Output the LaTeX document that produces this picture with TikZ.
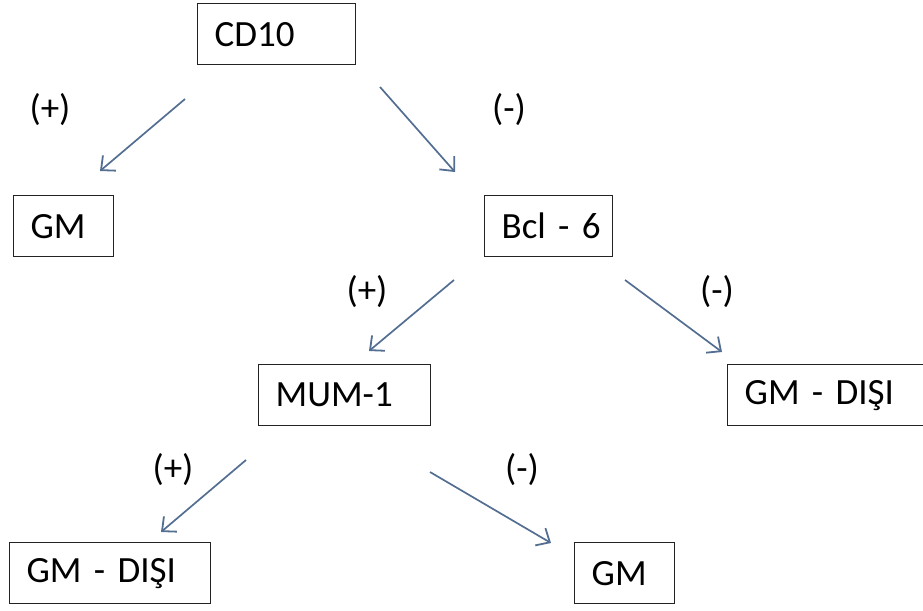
\documentclass[tikz,border=0pt]{standalone}
\usepackage{fontspec}
\setmainfont{Carlito}
\usepackage{xcolor}
\usepackage{tikz}
\usetikzlibrary{arrows.meta}
\definecolor{arrowblue}{RGB}{84,110,146}
\definecolor{boxgray}{RGB}{35,35,35}
\tikzset{
    box/.style={rectangle, draw=boxgray, line width=1.3pt, anchor=north west,
                minimum height=61pt, inner xsep=17pt, align=left,
                font=\fontsize{37}{44}\selectfont},
    sign/.style={font=\fontsize{37}{44}\selectfont, text=black},
    arrow/.style={-{Straight Barb[length=11pt, width=20pt, line width=1.8pt]},
                  line width=1.7pt, draw=arrowblue},
}
\begin{document}
\begin{tikzpicture}[x=1pt, y=-1pt]
    \useasboundingbox (0,0) rectangle (923,610);
    \clip (0,0) rectangle (923,610);

    % Marker nodes
    \node[box, text width=124pt] (cd10) at (197,3) {CD10};
    \node[box, text width=66pt] (gmtop) at (13,195) {GM};
    \node[box, text width=94pt] (bcl) at (484,195) {\mbox{Bcl - 6}};
    \node[box, text width=138pt] (mum) at (258,364) {MUM-1};
    \node[box, text width=167pt] (nongcbright) at (727,364) {\mbox{GM - DIŞI}};

    % Bottom results
    \node[box, text width=167pt] (nongcbleft) at (9,542) {\mbox{GM - DIŞI}};
    \node[box, text width=66pt] (gmbottom) at (574,542) {GM};

    % Signs
    \node[sign] (cdpos) at (50,110) {(+)};
    \node[sign] (cdneg) at (509,110) {(-)};
    \node[sign] (bclpos) at (367,292) {(+)};
    \node[sign] (bclneg) at (717,292) {(-)};
    \node[sign] (mumpos) at (173,470) {(+)};
    \node[sign] (mumneg) at (522,470) {(-)};

    % Arrow ends
    \coordinate (cdposs) at (185,99);
    \coordinate (cdpose) at (100,171);
    \coordinate (cdnegs) at (380,87);
    \coordinate (cdnege) at (455,172);
    \coordinate (bclposs) at (454,280);
    \coordinate (bclpose) at (369,351);
    \coordinate (bclnegs) at (625,280);
    \coordinate (bclnege) at (722,352);
    \coordinate (mumposs) at (246,460);
    \coordinate (mumpose) at (161,532);
    \coordinate (mumnegs) at (430,472);
    \coordinate (mumnege) at (551,543);

    % Arrows
    \draw[arrow] (cdposs) -- (cdpose);
    \draw[arrow] (cdnegs) -- (cdnege);
    \draw[arrow] (bclposs) -- (bclpose);
    \draw[arrow] (bclnegs) -- (bclnege);
    \draw[arrow] (mumposs) -- (mumpose);
    \draw[arrow] (mumnegs) -- (mumnege);
\end{tikzpicture}
\end{document}
